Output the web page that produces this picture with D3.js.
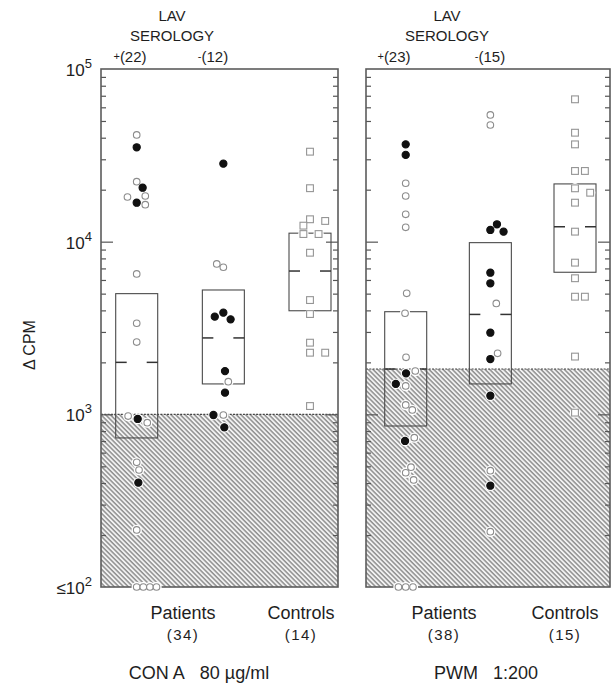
<!DOCTYPE html>
<html><head><meta charset="utf-8">
<script src="https://cdn.jsdelivr.net/npm/d3@7"></script>
<style>
body{margin:0;background:#fff;}
svg{display:block;font-family:"Liberation Sans",Arial,sans-serif;}
</style></head>
<body>
<svg id="chart" width="614" height="690"></svg>
<script>
// ---------- DATA ----------
const groups = ["pos", "neg", "ctrl"];
const yTickValues = [100, 1000, 10000, 100000];
const yTickExponents = ["2", "3", "4", "5"];
const yTickPrefixes = ["\u226410", "10", "10", "10"];

// [value, filled(1)/open(0), jitter slot]
const conA_pos = [[41500,0,0],[35200,1,0],[22250,0,0],[20540,1,0.9],[18140,0,-1.4],[18380,0,1.3],
  [16810,1,0],[16380,0,1.3],[6500,0,0],[3370,0,0],[2620,0,0],[977,0,-1.3],[940,1,0.15],[895,0,1.6],
  [527,0,0],[476,0,0.35],[402,1,0.25],[214,0,0],[100,0,0],[100,0,1],[100,0,2],[100,0,3]];
const conA_neg = [[28300,1,0],[7430,0,-1],[7110,0,0],[3680,1,-1.3],[3880,1,0],[3550,1,1.1],
  [1780,1,0.25],[1545,0,0.75],[1335,1,0.25],[991,1,-1.5],[991,0,0],[841,1,0.15]];
const conA_ctrl = [[33200,0,0],[20400,0,0],[13480,0,0],[13180,0,2.3],[12380,0,-1],[11070,0,-1],
  [11070,0,1.3],[8630,0,0],[4590,0,0],[3810,0,0],[2600,0,0],[2275,0,0],[2275,0,2.3],[1117,0,0]];

const pwm_pos = [[36600,1,0],[31800,1,0],[21800,0,0],[18390,0,0],[14400,0,0],[12100,0,0],[5020,0,0.15],
  [3850,0,-0.1],[2140,0,0.05],[1728,1,0.05],[1782,0,1.45],[1500,1,-1.5],[1460,0,0],[1133,0,0],
  [1060,0,1.0],[701,1,-0.1],[733,0,1.3],[494,0,0.8],[459,0,0],[417,0,1.2],[100,0,-1.1],[100,0,0],[100,0,1.1]];
const pwm_neg = [[54200,0,0],[47400,0,0],[11690,1,0],[12610,1,1],[11430,1,2],[6610,1,0],[5740,1,0],
  [4390,0,0.9],[2970,1,0],[2255,0,1.1],[2090,1,0],[1282,1,0],[472,0,0],[386,1,0],[209,0,0]];
const pwm_ctrl = [[66750,0,0],[42760,0,0],[36600,0,0],[25670,0,0],[25670,0,1.5],[20370,0,0],[19210,0,2.3],
  [16820,0,0],[11430,0,0],[7560,0,0],[6140,0,0],[4800,0,0],[4800,0,1.5],[2160,0,0],[1023,0,0]];

// boxes: [low, median, high]
const conA_boxes = [[730, 2000, 5000], [1500, 2770, 5250], [3980, 6760, 11200]];
const pwm_boxes = [[856, 1830, 3930], [1500, 3790, 9870], [6650, 12200, 21600]];
const conA_threshold = 1000;
const pwm_threshold = 1830;

const conA_serology = ["(22)", "(12)"];
const pwm_serology = ["(23)", "(15)"];
const conA_groupLabels = [["Patients", "(34)"], ["Controls", "(14)"]];
const pwm_groupLabels = [["Patients", "(38)"], ["Controls", "(15)"]];
const conA_title = "CON A\u00a0\u00a0\u00a080\u00a0\u00b5g/ml";
const pwm_title = "PWM\u00a0\u00a0\u00a01:200";

// ---------- CHART ----------
const svg = d3.select("#chart");
const ink = "#1e1e1e";
const y = d3.scaleLog().domain([100, 100000]).range([587, 69]);

const defs = svg.append("defs");
const pat = defs.append("pattern").attr("id", "hatch").attr("patternUnits", "userSpaceOnUse")
  .attr("width", 3.3).attr("height", 3.3).attr("patternTransform", "rotate(45)");
pat.append("rect").attr("width", 3.3).attr("height", 3.3).attr("fill", "#f2f2f2");
pat.append("rect").attr("width", 3.3).attr("height", 1.5).attr("fill", "#909090");

const panels = [
  {x0: 101, x1: 338, cx: [136.7, 310], data: [conA_pos, conA_neg, conA_ctrl], boxes: conA_boxes,
   thr: conA_threshold, sero: conA_serology, seroX: [130, 213], headX: 172, labels: conA_groupLabels,
   labelX: [183, 301], title: conA_title, titleX: 199},
  {x0: 366, x1: 610, cx: [405.7, 575], data: [pwm_pos, pwm_neg, pwm_ctrl], boxes: pwm_boxes,
   thr: pwm_threshold, sero: pwm_serology, seroX: [394, 490], headX: 447, labels: pwm_groupLabels,
   labelX: [444, 565], title: pwm_title, titleX: 486}
];

const minorTicks = [];
[100, 1000, 10000].forEach(d => { for (let k = 2; k <= 9; k++) minorTicks.push(d * k); });
const majorTicks = [1000, 10000];
const slot = 6.6, boxW = 42;

panels.forEach(p => {
  const g = svg.append("g");
  const x = d3.scalePoint().domain(groups).range(p.cx);
  // hatched region
  g.append("rect").attr("x", p.x0).attr("y", y(p.thr)).attr("width", p.x1 - p.x0)
    .attr("height", y(100) - y(p.thr)).attr("fill", "url(#hatch)");
  g.append("line").attr("x1", p.x0).attr("x2", p.x1).attr("y1", y(p.thr)).attr("y2", y(p.thr))
    .attr("stroke", "#444").attr("stroke-width", 1.2).attr("stroke-dasharray", "2,1.3");
  // ticks
  [[d3.axisRight, p.x0], [d3.axisLeft, p.x1]].forEach(([ax, xx]) => {
    const a1 = g.append("g").attr("transform", `translate(${xx},0)`)
      .call(ax(y).tickValues(minorTicks).tickSize(5).tickFormat(""));
    const a2 = g.append("g").attr("transform", `translate(${xx},0)`)
      .call(ax(y).tickValues(majorTicks).tickSize(12).tickFormat(""));
    [a1, a2].forEach(a => { a.select(".domain").remove(); a.selectAll("line").attr("stroke", "#555").attr("stroke-width", 1.2); });
  });
  // boxes
  p.boxes.forEach((b, i) => {
    const cx = x(groups[i]);
    g.append("rect").attr("x", cx - boxW / 2).attr("y", y(b[2])).attr("width", boxW)
      .attr("height", y(b[0]) - y(b[2])).attr("fill", "none").attr("stroke", "#4a4a4a").attr("stroke-width", 1.1);
    [[cx - boxW / 2, cx - boxW / 2 + 11], [cx + boxW / 2 - 11, cx + boxW / 2]].forEach(([a, c]) => {
      g.append("line").attr("x1", a).attr("x2", c).attr("y1", y(b[1])).attr("y2", y(b[1]))
        .attr("stroke", "#333").attr("stroke-width", 1.5);
    });
  });
  // border
  g.append("rect").attr("x", p.x0).attr("y", y(100000)).attr("width", p.x1 - p.x0)
    .attr("height", y(100) - y(100000)).attr("fill", "none").attr("stroke", "#5c5c5c").attr("stroke-width", 1.6);
  // points
  p.data.forEach((arr, i) => {
    const cx = x(groups[i]);
    const pts = arr.map(d => ({v: d[0], f: d[1], x: cx + d[2] * slot}));
    const isSq = groups[i] === "ctrl";
    g.selectAll(null).data(pts).enter().append("circle")
      .attr("cx", d => d.x).attr("cy", d => y(d.v)).attr("r", 5.2).attr("fill", "#fff");
    if (isSq) {
      g.selectAll(null).data(pts).enter().append("rect")
        .attr("x", d => d.x - 3.4).attr("y", d => y(d.v) - 3.4).attr("width", 6.8).attr("height", 6.8)
        .attr("fill", "#fff").attr("stroke", "#959595").attr("stroke-width", 1.1);
    } else {
      g.selectAll(null).data(pts).enter().append("circle")
        .attr("cx", d => d.x).attr("cy", d => y(d.v)).attr("r", d => d.f ? 3.6 : 3.3)
        .attr("fill", d => d.f ? "#111" : "#fff")
        .attr("stroke", d => d.f ? "#111" : "#8c8c8c").attr("stroke-width", 1.1);
    }
  });
  // header
  g.append("text").attr("x", p.headX).attr("y", 21).attr("text-anchor", "middle")
    .attr("font-size", 15).attr("fill", ink).text("LAV");
  g.append("text").attr("x", p.headX).attr("y", 41).attr("text-anchor", "middle")
    .attr("font-size", 15).attr("fill", ink).text("SEROLOGY");
  ["+", "-"].forEach((s, i) => {
    const t = g.append("text").attr("x", p.seroX[i]).attr("y", 62).attr("text-anchor", "middle")
      .attr("font-size", 15).attr("fill", ink);
    t.append("tspan").attr("font-size", 11).attr("dy", -2).text(s);
    t.append("tspan").attr("dy", 2).text(p.sero[i]);
  });
  // bottom labels
  p.labels.forEach((l, i) => {
    g.append("text").attr("x", p.labelX[i]).attr("y", 619).attr("text-anchor", "middle")
      .attr("font-size", 18).attr("fill", ink).text(l[0]);
    g.append("text").attr("x", p.labelX[i]).attr("y", 640).attr("text-anchor", "middle")
      .attr("font-size", 15).attr("letter-spacing", 1.5).attr("fill", ink).text(l[1]);
  });
  g.append("text").attr("x", p.titleX).attr("y", 679).attr("text-anchor", "middle")
    .attr("font-size", 18).attr("fill", ink).text(p.title);
});

// y labels
yTickValues.forEach((v, i) => {
  const t = svg.append("text").attr("x", 92).attr("y", y(v) + 7).attr("text-anchor", "end")
    .attr("font-size", 17).attr("fill", ink);
  t.append("tspan").text(yTickPrefixes[i]);
  t.append("tspan").attr("font-size", 13).attr("dy", -8).text(yTickExponents[i]);
});
svg.append("text").attr("transform", "translate(35,345) rotate(-90)").attr("text-anchor", "middle")
  .attr("font-size", 16).attr("fill", ink).text("\u0394 CPM");
</script>
</body></html>
